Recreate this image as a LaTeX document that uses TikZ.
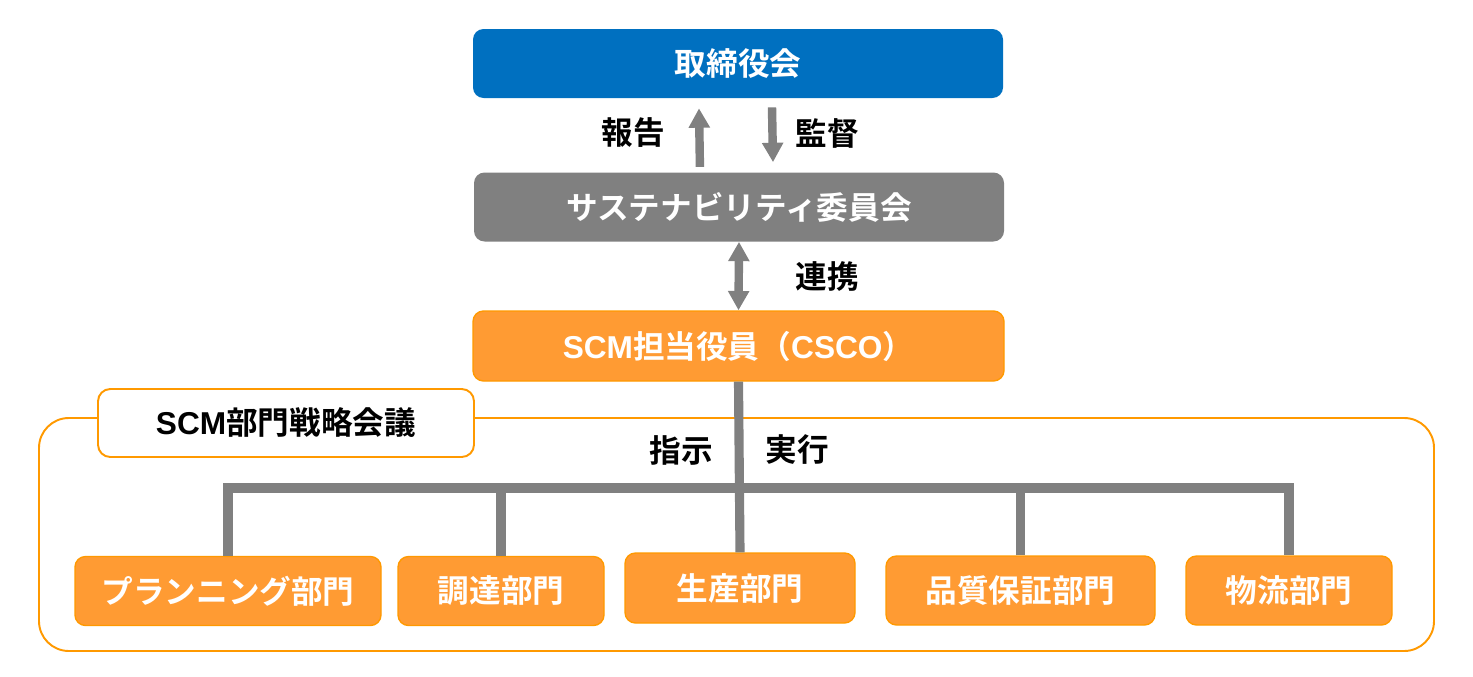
\documentclass[tikz,border=0pt]{standalone}
\usepackage{fontspec}
\newfontfamily\jpfont{Noto Sans CJK JP}[BoldFont={Noto Sans CJK JP Bold}]
\newfontfamily\latfont{Liberation Sans}
\newcommand\lat[1]{{\latfont\bfseries #1}}
\usepackage{xcolor}
\definecolor{boardblue}{HTML}{0070C0}
\definecolor{linegray}{HTML}{808080}
\definecolor{scmorange}{HTML}{FF9B33}
\definecolor{edgeorange}{HTML}{FF9900}
\usepackage{tikz}
\usetikzlibrary{arrows.meta,calc}

\begin{document}
\begin{tikzpicture}[x=0.02cm,y=-0.02cm,
  font=\jpfont\bfseries\fontsize{18}{21}\selectfont,
  topbox/.style={rounded corners=6pt,inner sep=0pt,text=white,
                 minimum width=530*0.02cm,minimum height=69*0.02cm},
  deptbox/.style={rounded corners=6pt,inner sep=0pt,text=white,
                  fill=scmorange,draw=edgeorange,line width=0.8pt,
                  minimum height=69*0.02cm},
  flowlbl/.style={text=black,inner sep=0pt},
  garrow/.style={linegray,line width=4.8pt,
                 -{Triangle[width=11.5pt,length=11pt]}},
  bus/.style={linegray,line width=5.2pt,line join=miter}]

  \useasboundingbox (0,0) rectangle (1473,676);

  % council frame
  \draw[edgeorange,line width=1.1pt,rounded corners=17pt]
    (39,418) rectangle (1434,651);
  \node[rounded corners=7pt,draw=edgeorange,fill=white,line width=1.1pt,
        minimum width=376*0.02cm,minimum height=68*0.02cm,inner sep=0pt]
    (council) at (286,423) {\lat{SCM}部門戦略会議};

  % top boxes
  \node[topbox,fill=boardblue] (board) at (738,63.5) {取締役会};
  \node[topbox,fill=linegray] (sust) at (739,207) {サステナビリティ委員会};
  \node[topbox,fill=scmorange,draw=edgeorange,line width=0.8pt,
        minimum width=531*0.02cm,minimum height=70*0.02cm]
    (csco) at (738.5,346) {\lat{SCM}担当役員（\lat{CSCO}）};

  % departments
  \node[deptbox,minimum width=306*0.02cm] (plan) at (228,591) {プランニング部門};
  \node[deptbox,minimum width=206*0.02cm] (proc) at (501,591) {調達部門};
  \node[deptbox,minimum width=230*0.02cm,minimum height=70*0.02cm]
    (prod) at (740,588) {生産部門};
  \node[deptbox,minimum width=269*0.02cm] (qa) at (1020.5,590.5) {品質保証部門};
  \node[deptbox,minimum width=206*0.02cm] (logi) at (1289,590.5) {物流部門};

  % report / supervise
  \draw[garrow,shorten <=3pt] ($(sust.north)+(-39,0)$) -- ($(board.south)+(-39,10)$);
  \draw[garrow] ($(board.south)+(34,9)$) -- ($(sust.north)+(34,-10)$);
  \node[flowlbl] (report) at (633,133) {報告};
  \node[flowlbl] (superv) at (827,133) {監督};

  % liaison
  \draw[garrow,{Triangle[width=11.5pt,length=11pt]}-{Triangle[width=11.5pt,length=11pt]}]
    (sust.south) -- (csco.north);
  \node[flowlbl] (liaison) at (827,277) {連携};

  % command tree
  \coordinate (busy) at (740,488);
  \draw[bus] (csco.south) -- (prod.north);
  \draw[bus] (plan.north) |- (busy) -| (logi.north);
  \draw[bus] (proc.north) -- (proc.north |- busy);
  \draw[bus] (qa.north) -- (qa.north |- busy);
  \node[flowlbl] (instr) at (681,450) {指示};
  \node[flowlbl] (exec) at (797,450) {実行};
\end{tikzpicture}
\end{document}
